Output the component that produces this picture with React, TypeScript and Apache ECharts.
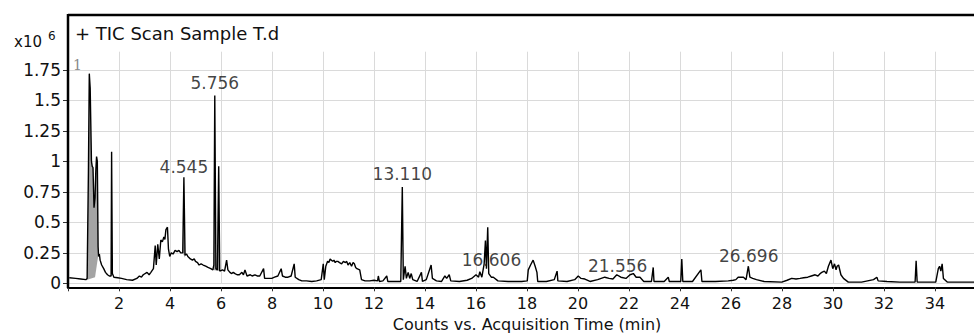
import { useEffect, useRef } from "react";
import * as echarts from "echarts";

// Total ion chromatogram: [acquisition time (min), counts (x10^6)]
const trace: [number, number][] = [
  [0.05, 0.045], [0.3, 0.04], [0.5, 0.035], [0.7, 0.03], [0.75, 0.04], [0.8, 0.9], [0.835, 1.72],
  [0.87, 1.6], [0.92, 1.0], [0.95, 0.96], [0.98, 0.95], [1.02, 0.62], [1.06, 0.7], [1.09, 0.92],
  [1.12, 1.04], [1.15, 1.0], [1.18, 0.3], [1.2, 0.22], [1.23, 0.24], [1.26, 0.19], [1.32, 0.15],
  [1.4, 0.12], [1.47, 0.09], [1.55, 0.07], [1.62, 0.06], [1.69, 0.06], [1.71, 1.08], [1.74, 0.08],
  [1.8, 0.05], [1.95, 0.045], [2.1, 0.04], [2.3, 0.03], [2.53, 0.025], [2.7, 0.04], [2.8, 0.06],
  [2.88, 0.05], [2.95, 0.07], [3.1, 0.09], [3.18, 0.07], [3.25, 0.09], [3.35, 0.12], [3.42, 0.31],
  [3.46, 0.15], [3.52, 0.32], [3.58, 0.2], [3.64, 0.355], [3.7, 0.34], [3.76, 0.38], [3.8, 0.36],
  [3.84, 0.44], [3.9, 0.46], [3.94, 0.28], [3.99, 0.22], [4.05, 0.25], [4.12, 0.24], [4.2, 0.27],
  [4.28, 0.26], [4.35, 0.27], [4.42, 0.25], [4.5, 0.25], [4.545, 0.87], [4.59, 0.23], [4.65, 0.24],
  [4.7, 0.22], [4.8, 0.2], [4.88, 0.19], [4.95, 0.2], [5.0, 0.18], [5.08, 0.17], [5.14, 0.15],
  [5.22, 0.16], [5.3, 0.15], [5.4, 0.14], [5.49, 0.13], [5.6, 0.12], [5.68, 0.11], [5.72, 0.15],
  [5.756, 1.54], [5.8, 0.12], [5.86, 0.11], [5.91, 0.96], [5.95, 0.1], [6.06, 0.11], [6.14, 0.1],
  [6.22, 0.19], [6.27, 0.11], [6.35, 0.09], [6.42, 0.08], [6.48, 0.09], [6.55, 0.08], [6.63, 0.07],
  [6.72, 0.07], [6.82, 0.09], [6.88, 0.07], [6.94, 0.11], [7.02, 0.06], [7.15, 0.07], [7.22, 0.06],
  [7.33, 0.07], [7.42, 0.06], [7.52, 0.06], [7.67, 0.12], [7.71, 0.04], [7.85, 0.04], [7.99, 0.04],
  [8.1, 0.05], [8.23, 0.06], [8.36, 0.12], [8.41, 0.06], [8.52, 0.05], [8.63, 0.05], [8.75, 0.06],
  [8.87, 0.16], [8.91, 0.05], [9.05, 0.03], [9.17, 0.02], [9.35, 0.02], [9.56, 0.015], [9.75, 0.02],
  [9.93, 0.03], [10.01, 0.16], [10.05, 0.03], [10.11, 0.14], [10.18, 0.18], [10.23, 0.17],
  [10.28, 0.2], [10.33, 0.19], [10.38, 0.18], [10.43, 0.19], [10.48, 0.17], [10.53, 0.18],
  [10.58, 0.18], [10.65, 0.17], [10.73, 0.16], [10.8, 0.18], [10.88, 0.17], [10.93, 0.18],
  [10.98, 0.15], [11.05, 0.17], [11.12, 0.14], [11.18, 0.17], [11.23, 0.16], [11.28, 0.13],
  [11.33, 0.12], [11.44, 0.11], [11.51, 0.03], [11.65, 0.02], [11.83, 0.02], [12.0, 0.025],
  [12.14, 0.02], [12.17, 0.06], [12.21, 0.015], [12.35, 0.02], [12.5, 0.06], [12.54, 0.015],
  [12.8, 0.015], [13.05, 0.015], [13.11, 0.79], [13.15, 0.03], [13.22, 0.14], [13.27, 0.04],
  [13.34, 0.09], [13.4, 0.04], [13.46, 0.08], [13.52, 0.03], [13.69, 0.015], [13.86, 0.09],
  [13.9, 0.015], [14.05, 0.03], [14.24, 0.15], [14.29, 0.04], [14.45, 0.02], [14.65, 0.015],
  [14.78, 0.06], [14.85, 0.04], [14.95, 0.07], [15.01, 0.02], [15.35, 0.015], [15.65, 0.025],
  [15.83, 0.04], [16.0, 0.07], [16.1, 0.05], [16.15, 0.095], [16.23, 0.05], [16.32, 0.16],
  [16.37, 0.35], [16.41, 0.12], [16.46, 0.46], [16.5, 0.08], [16.6, 0.05], [16.68, 0.05],
  [16.86, 0.02], [17.26, 0.015], [17.79, 0.015], [18.01, 0.02], [18.05, 0.11], [18.14, 0.15],
  [18.24, 0.19], [18.32, 0.14], [18.39, 0.09], [18.42, 0.015], [18.76, 0.015], [19.07, 0.03],
  [19.18, 0.1], [19.21, 0.02], [19.57, 0.015], [19.87, 0.03], [20.01, 0.06], [20.12, 0.04],
  [20.27, 0.035], [20.47, 0.015], [20.77, 0.03], [21.05, 0.05], [21.22, 0.04], [21.37, 0.035],
  [21.52, 0.07], [21.68, 0.05], [21.88, 0.04], [22.04, 0.07], [22.17, 0.08], [22.28, 0.05],
  [22.43, 0.05], [22.58, 0.015], [22.88, 0.015], [22.95, 0.13], [22.98, 0.015], [23.38, 0.015],
  [23.54, 0.05], [23.58, 0.015], [24.03, 0.015], [24.07, 0.2], [24.11, 0.015], [24.49, 0.015],
  [24.82, 0.11], [24.86, 0.015], [25.39, 0.015], [25.89, 0.02], [26.09, 0.025], [26.19, 0.03],
  [26.28, 0.05], [26.49, 0.05], [26.59, 0.03], [26.68, 0.14], [26.74, 0.05], [26.85, 0.04],
  [27.0, 0.03], [27.3, 0.015], [27.99, 0.01], [28.2, 0.025], [28.38, 0.04], [28.55, 0.035],
  [28.71, 0.04], [28.85, 0.045], [29.01, 0.05], [29.15, 0.06], [29.3, 0.07], [29.41, 0.06],
  [29.5, 0.08], [29.56, 0.09], [29.66, 0.1], [29.74, 0.08], [29.82, 0.14], [29.92, 0.19],
  [29.99, 0.12], [30.06, 0.16], [30.12, 0.11], [30.16, 0.14], [30.22, 0.15], [30.31, 0.07],
  [30.41, 0.04], [30.6, 0.01], [31.12, 0.01], [31.59, 0.03], [31.72, 0.05], [31.77, 0.02],
  [32.12, 0.015], [32.62, 0.01], [33.22, 0.01], [33.26, 0.185], [33.3, 0.01], [34.03, 0.01],
  [34.13, 0.12], [34.18, 0.14], [34.23, 0.1], [34.28, 0.16], [34.33, 0.04], [34.48, 0.01],
  [35.13, 0.01], [36.0, 0.01],
];

// Integrated (shaded) peaks: [start time, end time, baseline at start, baseline at end]
const shadedPeaks: [number, number, number, number][] = [
  [0.75, 1.06, 0.03, 0.05],
  [1.06, 1.18, 0.05, 0.22],
  [1.69, 1.74, 0.06, 0.07],
  [4.5, 4.59, 0.25, 0.21],
  [5.68, 5.95, 0.11, 0.1],
];

// Retention-time labels and the height each label sits above
const peakLabelTimes = [4.545, 5.756, 13.11, 16.606, 21.556, 26.696];
const peakLabelHeights = [0.86, 1.55, 0.8, 0.1, 0.05, 0.13];

const FONT = "DejaVu Sans";
const TEXT = "#111";

export default function App() {
  const ref = useRef<HTMLDivElement>(null);

  useEffect(() => {
    const chart = echarts.init(ref.current!, null, { renderer: "svg" });
    const option: any = {
      animation: false,
      backgroundColor: "#fff",
      grid: { left: 68, right: 4, top: 51.7, bottom: 49.7, containLabel: false, outerBoundsMode: "none" },
      xAxis: {
        type: "value",
        min: 0,
        max: 36,
        interval: 2,
        offset: 4,
        axisLine: { show: true, onZero: false, lineStyle: { color: "#000", width: 2 } },
        axisTick: { show: true, length: 4, lineStyle: { color: "#333" } },
        axisLabel: {
          margin: 8,
          fontSize: 16,
          color: TEXT,
          fontFamily: FONT,
          formatter: (v: number) => (v === 0 || v === 36 ? "" : String(v)),
        },
        splitLine: { show: true, lineStyle: { color: "#dadada", width: 1 } },
        name: "Counts vs. Acquisition Time (min)",
        nameLocation: "middle",
        nameMoveOverlap: false,
        nameGap: 29,
        nameTextStyle: { fontSize: 16, color: TEXT, fontFamily: FONT },
      },
      yAxis: {
        type: "value",
        min: 0,
        max: 1.9,
        interval: 0.25,
        axisLine: { show: false },
        axisTick: { show: true, length: 5, lineStyle: { color: "#333" } },
        axisLabel: { margin: 7, fontSize: 17, color: TEXT, fontFamily: FONT, showMaxLabel: false },
        splitLine: { show: true, showMaxLine: false, lineStyle: { color: "#dadada", width: 1 } },
      },
      series: [
        {
          type: "custom",
          silent: true,
          z: 1,
          data: shadedPeaks.map(([a, b, bs, be]) => [a, b, bs, be]),
          encode: { x: [0, 1], y: [2, 3] },
          renderItem: (_params: any, api: any) => {
            const s = api.value(0);
            const e = api.value(1);
            const pts = trace.filter((p) => p[0] >= s && p[0] <= e).map((p) => api.coord(p));
            pts.push(api.coord([e, api.value(3)]));
            pts.push(api.coord([s, api.value(2)]));
            return { type: "polygon", shape: { points: pts }, style: { fill: "#a4a4a4" } };
          },
        },
        {
          type: "line",
          z: 3,
          silent: true,
          data: trace,
          symbol: "none",
          lineStyle: { color: "#000", width: 1.4 },
        },
        {
          type: "scatter",
          z: 4,
          silent: true,
          symbolSize: 0,
          data: peakLabelTimes.map((t, i) => [t, peakLabelHeights[i]]),
          label: {
            show: true,
            position: "top",
            distance: 3,
            fontSize: 17,
            color: TEXT,
            fontFamily: FONT,
            formatter: (p: any) => p.value[0].toFixed(3),
          },
        },
      ],
      graphic: [
        { type: "line", z: 10, shape: { x1: 68, y1: 15, x2: 990, y2: 15 }, style: { stroke: "#000", lineWidth: 2.5 } },
        { type: "line", z: 10, shape: { x1: 68, y1: 14, x2: 68, y2: 288 }, style: { stroke: "#000", lineWidth: 2.5 } },
        { type: "text", z: 10, x: 75, y: 33, style: { text: "+ TIC Scan Sample T.d", font: `18px "${FONT}"`, fill: TEXT, verticalAlign: "middle" } },
        { type: "text", z: 10, x: 14, y: 42, style: { text: "x10", font: `15px "${FONT}"`, fill: TEXT, verticalAlign: "middle" } },
        { type: "text", z: 10, x: 48, y: 36, style: { text: "6", font: `12px "${FONT}"`, fill: TEXT, verticalAlign: "middle" } },
        { type: "text", z: 10, x: 73, y: 65, style: { text: "1", font: `14px "DejaVu Serif"`, fill: "#8a8a8a", verticalAlign: "middle" } },
      ],
    };
    chart.setOption(option);
    return () => chart.dispose();
  }, []);

  return (
    <div style={{ position: "fixed", left: 0, top: 0, width: 974, height: 333, overflow: "hidden", background: "#fff" }}>
      <div ref={ref} style={{ width: 990, height: 333 }} />
    </div>
  );
}
